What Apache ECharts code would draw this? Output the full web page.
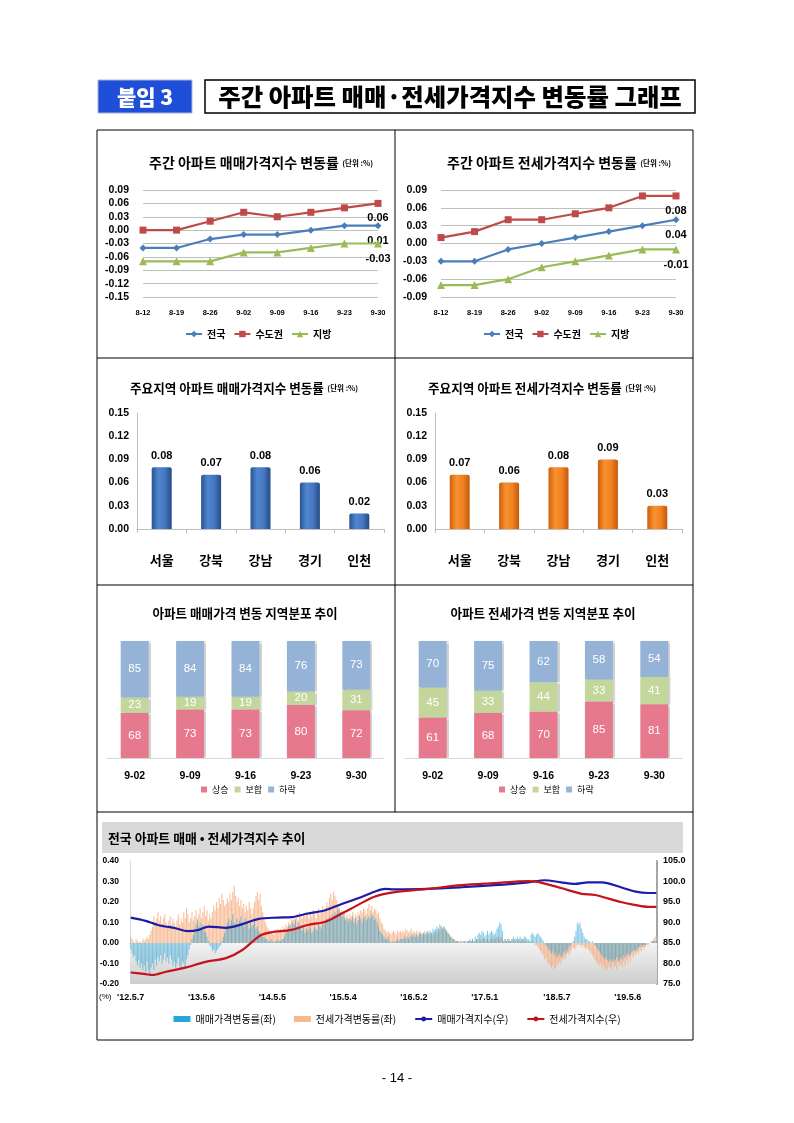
<!DOCTYPE html>
<html><head><meta charset="utf-8">
<script src="https://cdn.jsdelivr.net/npm/echarts@6/dist/echarts.min.js"></script>
<style>html,body{margin:0;padding:0;background:#fff}#c{width:794px;height:1123px}</style>
</head><body><div id="c"></div>
<script>
// ---------- data ----------
const weeks1 = ['8-12','8-19','8-26','9-02','9-09','9-16','9-23','9-30'];
const saleNation   = [-0.04,-0.04,-0.02,-0.01,-0.01,0.00,0.01,0.01];
const saleCapital  = [0.00,0.00,0.02,0.04,0.03,0.04,0.05,0.06];
const saleProvince = [-0.07,-0.07,-0.07,-0.05,-0.05,-0.04,-0.03,-0.03];
const jeonseNation   = [-0.03,-0.03,-0.01,0.00,0.01,0.02,0.03,0.04];
const jeonseCapital  = [0.01,0.02,0.04,0.04,0.05,0.06,0.08,0.08];
const jeonseProvince = [-0.07,-0.07,-0.06,-0.04,-0.03,-0.02,-0.01,-0.01];
const lineNames = ['전국','수도권','지방'];

const regions = ['서울','강북','강남','경기','인천'];
const regionSale   = [0.08,0.07,0.08,0.06,0.02];
const regionJeonse = [0.07,0.06,0.08,0.09,0.03];

const distWeeks = ['9-02','9-09','9-16','9-23','9-30'];
const distNames = ['상승','보합','하락'];
const saleUp   = [68,73,73,80,72];
const saleFlat = [23,19,19,20,31];
const saleDown = [85,84,84,76,73];
const jeonseUp   = [61,68,70,85,81];
const jeonseFlat = [45,33,44,33,41];
const jeonseDown = [70,75,62,58,54];

// weekly series, 2012-05-07 .. 2019-09-30 (387 weeks)
const saleWeekly = [
-0.03,-0.05,-0.07,-0.06,-0.09,-0.11,-0.08,-0.12,-0.10,-0.13,
-0.11,-0.14,-0.09,-0.13,-0.15,-0.12,-0.10,-0.13,-0.08,-0.11,
-0.07,-0.09,-0.06,-0.10,-0.08,-0.05,-0.09,-0.07,-0.10,-0.06,
-0.08,-0.11,-0.09,-0.12,-0.10,-0.07,-0.11,-0.13,-0.09,-0.10,
-0.12,-0.08,-0.06,-0.03,-0.01,0.02,0.04,0.06,0.09,0.11,
0.08,0.10,0.07,0.09,0.06,0.05,0.03,0.01,-0.01,-0.02,
-0.04,-0.03,-0.05,-0.04,-0.03,-0.02,-0.01,0.01,0.03,0.05,
0.08,0.10,0.12,0.09,0.11,0.14,0.10,0.08,0.12,0.09,
0.11,0.13,0.10,0.08,0.12,0.09,0.11,0.07,0.10,0.08,
0.09,0.12,0.07,0.08,0.06,0.05,0.04,0.03,0.03,0.02,
0.02,0.01,0.01,0.02,0.01,0.00,0.01,0.01,0.02,0.01,
0.01,0.02,0.02,0.03,0.05,0.06,0.08,0.09,0.07,0.10,
0.09,0.11,0.08,0.10,0.07,0.09,0.06,0.08,0.05,0.07,
0.06,0.08,0.07,0.05,0.06,0.08,0.07,0.06,0.09,0.08,
0.07,0.10,0.09,0.11,0.12,0.10,0.13,0.12,0.14,0.13,
0.15,0.14,0.16,0.17,0.15,0.13,0.14,0.12,0.11,0.12,
0.10,0.12,0.11,0.13,0.10,0.12,0.09,0.11,0.13,0.12,
0.10,0.12,0.13,0.11,0.12,0.13,0.12,0.14,0.13,0.11,
0.12,0.10,0.08,0.06,0.05,0.04,0.03,0.02,0.02,0.03,
0.01,0.00,0.01,0.00,0.01,0.01,0.02,0.01,0.02,0.02,
0.02,0.03,0.02,0.03,0.02,0.03,0.04,0.03,0.04,0.03,
0.04,0.03,0.04,0.05,0.04,0.05,0.04,0.05,0.06,0.05,
0.06,0.05,0.07,0.06,0.07,0.08,0.07,0.09,0.08,0.07,
0.08,0.07,0.06,0.05,0.04,0.03,0.02,0.02,0.01,0.01,
0.01,0.00,0.01,0.00,0.01,0.01,0.00,0.01,0.01,0.02,
0.01,0.02,0.01,0.03,0.02,0.04,0.05,0.04,0.06,0.05,
0.03,0.04,0.06,0.04,0.05,0.06,0.05,0.04,0.05,0.07,
0.08,0.10,0.09,0.06,0.01,0.02,0.01,0.02,0.01,0.01,
0.02,0.03,0.02,0.02,0.03,0.02,0.03,0.02,0.02,0.03,
0.03,0.02,0.02,0.01,0.04,0.05,0.04,0.03,0.04,0.05,
0.04,0.03,0.02,0.01,0.00,-0.01,-0.02,-0.03,-0.04,-0.05,
-0.04,-0.06,-0.05,-0.07,-0.06,-0.05,-0.07,-0.06,-0.04,-0.05,
-0.03,-0.04,-0.02,-0.01,0.00,0.01,0.03,0.06,0.10,0.09,
0.10,0.07,0.05,0.03,0.02,0.02,0.01,0.01,0.00,0.01,
0.00,-0.01,-0.02,-0.03,-0.04,-0.05,-0.06,-0.07,-0.08,-0.07,
-0.08,-0.09,-0.08,-0.09,-0.08,-0.09,-0.08,-0.07,-0.09,-0.08,
-0.07,-0.08,-0.06,-0.07,-0.06,-0.05,-0.06,-0.05,-0.04,-0.04,
-0.03,-0.04,-0.03,-0.02,-0.02,-0.01,-0.02,-0.01,-0.01,0.00,
0.00,0.00,0.00,0.01,0.01,0.01,0.01];
const jeonseWeekly = [
0.03,0.02,0.01,0.00,0.02,0.01,-0.01,0.01,0.00,0.02,
0.01,0.02,0.03,0.02,0.04,0.06,0.08,0.13,0.10,0.12,
0.15,0.11,0.13,0.09,0.12,0.14,0.10,0.08,0.11,0.13,
0.09,0.12,0.10,0.08,0.11,0.14,0.09,0.12,0.10,0.15,
0.12,0.17,0.14,0.10,0.12,0.15,0.11,0.13,0.16,0.12,
0.14,0.17,0.12,0.15,0.18,0.13,0.16,0.11,0.14,0.12,
0.15,0.18,0.16,0.20,0.17,0.22,0.19,0.24,0.21,0.18,
0.19,0.22,0.20,0.24,0.21,0.25,0.28,0.23,0.20,0.22,
0.18,0.21,0.17,0.19,0.15,0.18,0.16,0.20,0.17,0.14,
0.17,0.20,0.23,0.25,0.21,0.24,0.18,0.15,0.12,0.10,
0.08,0.07,0.06,0.05,0.05,0.04,0.06,0.05,0.07,0.06,
0.07,0.06,0.08,0.07,0.09,0.08,0.10,0.09,0.12,0.11,
0.13,0.12,0.14,0.11,0.15,0.13,0.12,0.14,0.13,0.15,
0.14,0.12,0.15,0.13,0.16,0.14,0.12,0.15,0.17,0.14,
0.16,0.18,0.15,0.17,0.20,0.18,0.22,0.24,0.21,0.25,
0.23,0.21,0.19,0.17,0.15,0.16,0.14,0.15,0.13,0.14,
0.12,0.14,0.13,0.15,0.12,0.14,0.13,0.15,0.14,0.16,
0.15,0.17,0.16,0.14,0.17,0.19,0.16,0.18,0.15,0.17,
0.16,0.14,0.15,0.12,0.10,0.09,0.07,0.06,0.05,0.06,
0.05,0.04,0.05,0.06,0.05,0.04,0.06,0.05,0.06,0.05,
0.06,0.05,0.07,0.06,0.05,0.06,0.07,0.05,0.06,0.05,
0.06,0.05,0.06,0.05,0.04,0.05,0.06,0.05,0.04,0.05,
0.04,0.05,0.04,0.05,0.06,0.05,0.07,0.06,0.08,0.07,
0.08,0.07,0.06,0.05,0.04,0.03,0.03,0.02,0.02,0.01,
0.01,0.01,0.00,0.01,0.00,0.01,0.01,0.00,0.01,0.01,
0.01,0.02,0.01,0.01,0.02,0.01,0.02,0.01,0.02,0.02,
0.02,0.01,0.02,0.01,0.02,0.02,0.03,0.02,0.02,0.03,
0.03,0.02,0.03,0.02,0.01,0.02,0.01,0.02,0.02,0.01,
0.02,0.01,0.02,0.01,0.01,0.02,0.01,0.01,0.02,0.01,
0.01,0.01,0.00,0.01,0.00,0.01,0.00,-0.01,-0.01,-0.02,
-0.03,-0.04,-0.05,-0.06,-0.08,-0.07,-0.09,-0.10,-0.11,-0.12,
-0.11,-0.13,-0.12,-0.10,-0.11,-0.09,-0.10,-0.08,-0.07,-0.08,
-0.06,-0.05,-0.06,-0.04,-0.03,-0.02,-0.03,-0.02,-0.01,-0.01,
-0.01,-0.02,-0.01,-0.02,-0.03,-0.02,-0.03,-0.04,-0.05,-0.06,
-0.07,-0.08,-0.09,-0.10,-0.11,-0.10,-0.12,-0.11,-0.13,-0.12,
-0.13,-0.11,-0.12,-0.13,-0.10,-0.12,-0.11,-0.13,-0.09,-0.11,
-0.10,-0.12,-0.09,-0.11,-0.08,-0.10,-0.07,-0.09,-0.06,-0.07,
-0.05,-0.06,-0.04,-0.05,-0.03,-0.04,-0.02,-0.03,-0.02,-0.01,
-0.01,0.00,0.01,0.01,0.02,0.03,0.03];
// index lines: [week number, index value]
const saleIndexPts = [[0,91.2],[11,90.4],[20,89.4],[33,88.6],[42,87.9],[50,88.2],[57,89.0],[70,88.7],[82,89.6],[94,90.9],[108,91.2],[118,91.3],[130,92.2],[143,93.0],[155,94.5],[167,95.9],[179,97.5],[187,98.2],[193,98.1],[218,98.2],[243,98.6],[267,99.1],[292,99.8],[304,100.3],[316,99.8],[326,99.4],[336,99.8],[346,99.8],[360,98.6],[370,97.6],[380,97.2],[386,97.2]];
const jeonseIndexPts = [[0,77.8],[11,77.4],[16,77.2],[26,78.0],[40,79.0],[55,80.4],[70,81.3],[82,83.3],[95,86.8],[103,87.6],[118,88.2],[130,89.4],[143,90.2],[155,92.2],[167,94.3],[179,96.3],[194,97.4],[218,98.2],[243,99.1],[267,99.6],[292,100.1],[299,99.9],[316,98.4],[331,97.0],[341,96.7],[360,95.0],[370,94.3],[380,93.8],[386,93.8]];
const longTickIdx = [0,52,104,156,208,260,313,365];
const longTickLabels = ["'12.5.7","'13.5.6","'14.5.5","'15.5.4","'16.5.2","'17.5.1","'18.5.7","'19.5.6"];
const longNames = ['매매가격변동률(좌)','전세가격변동률(좌)','매매가격지수(우)','전세가격지수(우)'];

// ---------- helpers ----------
const F = "'Liberation Sans','Noto Sans CJK KR',sans-serif";
const FK = "'Noto Sans CJK KR','Liberation Sans',sans-serif";
const FN = "'Liberation Sans Narrow','Arial Narrow','Liberation Sans',sans-serif";
const weekCats = saleWeekly.map((_, i) => String(i));
const lineColors = ['#4A7EBB','#BE4B48','#9BBB59'];
const lineSymbols = ['diamond','rect','triangle'];

function withLastLabel(arr) {
  return arr.map((v, i) => i === arr.length - 1 ? {
    value: v,
    label: {show: true, position: 'bottom', distance: 6, formatter: v.toFixed(2),
      fontSize: 11, fontWeight: 'bold', color: '#000', fontFamily: F}
  } : v);
}
function lineSeries(idx, arrs) {
  return arrs.map((a, k) => ({
    type: 'line', name: lineNames[k], xAxisIndex: idx, yAxisIndex: idx,
    data: withLastLabel(a), symbol: lineSymbols[k], symbolSize: k === 2 ? 8 : 7,
    lineStyle: {color: lineColors[k], width: 2.2}, itemStyle: {color: lineColors[k]}, z: 3 + k
  }));
}
function lineAxes(idx, min, max) {
  return {
    x: {gridIndex: idx, type: 'category', data: weeks1, boundaryGap: false,
      axisLine: {show: true, lineStyle: {color: '#BFBFBF'}}, axisTick: {show: false},
      axisLabel: {color: '#000', fontSize: 7.5, fontWeight: 'bold', fontFamily: F, margin: 12}},
    y: {gridIndex: idx, type: 'value', min: min, max: max, interval: 0.03,
      axisLine: {show: false}, axisTick: {show: false},
      splitLine: {show: true, lineStyle: {color: '#BFBFBF', width: 1}},
      axisLabel: {color: '#000', fontSize: 10.5, fontWeight: 'bold', fontFamily: F, margin: 14,
        formatter: v => (Math.abs(v) < 1e-9 ? 0 : v).toFixed(2)}}
  };
}
function barAxes(idx) {
  return {
    x: {gridIndex: idx, type: 'category', data: regions,
      axisLine: {show: true, lineStyle: {color: '#BFBFBF'}},
      axisTick: {show: true, length: 4, lineStyle: {color: '#BFBFBF'}},
      axisLabel: {color: '#000', fontSize: 13, fontWeight: 'bold', fontFamily: FK, margin: 25}},
    y: {gridIndex: idx, type: 'value', min: 0, max: 0.15, interval: 0.03,
      axisLine: {show: true, lineStyle: {color: '#BFBFBF'}}, axisTick: {show: false},
      splitLine: {show: false},
      axisLabel: {color: '#000', fontSize: 10.5, fontWeight: 'bold', fontFamily: F, margin: 8,
        formatter: v => v.toFixed(2)}}
  };
}
function gradH(stops) {
  return {type: 'linear', x: 0, y: 0, x2: 1, y2: 0,
    colorStops: stops.map((c, i) => ({offset: i / (stops.length - 1), color: c}))};
}
function barSeries(idx, arr, stops) {
  return {type: 'bar', xAxisIndex: idx, yAxisIndex: idx, data: arr, barWidth: 20,
    itemStyle: {color: gradH(stops), borderRadius: [2, 2, 0, 0]},
    label: {show: true, position: 'top', distance: 6, fontSize: 11, fontWeight: 'bold', color: '#000',
      fontFamily: F, formatter: p => p.value.toFixed(2)}};
}
const distColors = ['#E7798F','#C3D69B','#95B3D7'];
function distAxes(idx) {
  return {
    x: {gridIndex: idx, type: 'category', data: distWeeks,
      axisLine: {show: true, lineStyle: {color: '#D9D9D9'}}, axisTick: {show: false},
      axisLabel: {color: '#000', fontSize: 10.5, fontWeight: 'bold', fontFamily: F, margin: 13}},
    y: {gridIndex: idx, type: 'value', min: 0, max: 176, show: false, splitLine: {show: false}}
  };
}
function distSeries(idx, arrs) {
  return arrs.map((a, k) => ({
    type: 'bar', name: distNames[k], xAxisIndex: idx, yAxisIndex: idx, stack: 'd' + idx,
    data: a, barWidth: 28,
    itemStyle: {color: distColors[k], shadowColor: 'rgba(0,0,0,0.18)', shadowOffsetX: 2, shadowBlur: 1},
    label: {show: true, position: 'inside', color: '#fff', fontSize: 11.5, fontFamily: FN}
  }));
}

const A0 = lineAxes(0, -0.15, 0.09), A1 = lineAxes(1, -0.09, 0.09);
const A2 = barAxes(2), A3 = barAxes(3), A4 = distAxes(4), A5 = distAxes(5);

function titleEl(x, y, main, unit, size, usize, align) {
  const rich = {a: {fontSize: size, fontWeight: 'bold', fontFamily: FK, fill: '#000'},
                b: {fontSize: usize, fontWeight: 'bold', fontFamily: FK, fill: '#000'}};
  return {type: 'text', x: x, y: y, silent: true,
    style: {text: unit ? '{a|' + main + '} {b|' + unit + '}' : '{a|' + main + '}', rich: rich,
      align: align || 'left', verticalAlign: 'middle'}};
}

const option = {
  backgroundColor: '#fff',
  animation: false,
  grid: [
    {left: 143, top: 190, width: 235, height: 107},
    {left: 441, top: 190, width: 235, height: 107},
    {left: 137, top: 413, width: 247, height: 116},
    {left: 435, top: 413, width: 247, height: 116},
    {left: 107, top: 641, width: 277, height: 117},
    {left: 405, top: 641, width: 277, height: 117},
    {left: 130, top: 861, width: 527, height: 123}
  ].map(g => Object.assign(g, {containLabel: false, outerBoundsMode: 'none', show: false})),
  xAxis: [A0.x, A1.x, A2.x, A3.x, A4.x, A5.x,
    {gridIndex: 6, type: 'category', data: weekCats, position: 'bottom',
      axisLine: {show: false, onZero: false}, axisTick: {show: false}, splitLine: {show: false},
      axisLabel: {interval: i => longTickIdx.includes(i),
        formatter: v => { const k = longTickIdx.indexOf(Number(v)); return k >= 0 ? longTickLabels[k] : ''; },
        color: '#000', fontSize: 9, fontWeight: 'bold', fontFamily: F, margin: 9}},
    {gridIndex: 6, type: 'category', data: weekCats, position: 'bottom',
      axisLine: {show: true, onZero: true, lineStyle: {color: '#A0A0A0'}},
      axisTick: {show: true, interval: i => i % 2 === 0, length: 3, lineStyle: {color: '#A8A8A8'}},
      axisLabel: {show: false}, splitLine: {show: false}}
  ],
  yAxis: [A0.y, A1.y, A2.y, A3.y, A4.y, A5.y,
    {gridIndex: 6, type: 'value', min: -0.2, max: 0.4, interval: 0.1, position: 'left',
      axisLine: {show: true, lineStyle: {color: '#D9D9D9'}}, axisTick: {show: false}, splitLine: {show: false},
      axisLabel: {color: '#000', fontSize: 8.5, fontWeight: 'bold', fontFamily: F, margin: 11,
        formatter: v => (Math.abs(v) < 1e-9 ? 0 : v).toFixed(2)}},
    {gridIndex: 6, type: 'value', min: 75, max: 105, interval: 5, position: 'right',
      axisLine: {show: true, lineStyle: {color: '#A6A6A6', width: 2}}, axisTick: {show: false}, splitLine: {show: false},
      axisLabel: {color: '#000', fontSize: 9, fontWeight: 'bold', fontFamily: F, margin: 6,
        formatter: v => v.toFixed(1)}}
  ],
  legend: [
    {left: 180, top: 324, data: lineNames, itemWidth: 16, itemHeight: 8, itemGap: 8,
      textStyle: {fontSize: 10, fontWeight: 'bold', color: '#000', fontFamily: FK}},
    {left: 478, top: 324, data: lineNames, itemWidth: 16, itemHeight: 8, itemGap: 8,
      textStyle: {fontSize: 10, fontWeight: 'bold', color: '#000', fontFamily: FK}},
    {left: 196, top: 780, data: distNames, icon: 'rect', itemWidth: 6, itemHeight: 6, itemGap: 6,
      textStyle: {fontSize: 9, color: '#000', fontFamily: FK}},
    {left: 494, top: 780, data: distNames, icon: 'rect', itemWidth: 6, itemHeight: 6, itemGap: 6,
      textStyle: {fontSize: 9, color: '#000', fontFamily: FK}},
    {left: 'center', top: 1009, itemWidth: 17, itemHeight: 6, itemGap: 18,
      data: [
        {name: longNames[0], icon: 'rect', itemStyle: {color: '#2AA5D9', opacity: 1}},
        {name: longNames[1], icon: 'rect', itemStyle: {color: '#F7B88E', opacity: 1}},
        {name: longNames[2]}, {name: longNames[3]}],
      textStyle: {fontSize: 10, color: '#000', fontFamily: FK}}
  ],
  series: [
    ...lineSeries(0, [saleNation, saleCapital, saleProvince]),
    ...lineSeries(1, [jeonseNation, jeonseCapital, jeonseProvince]),
    barSeries(2, regionSale, ['#2A548F','#4F86D0','#4677C0','#244A84']),
    barSeries(3, regionJeonse, ['#CC5F0C','#F7922F','#F08221','#C4590A']),
    ...distSeries(4, [saleUp, saleFlat, saleDown]),
    ...distSeries(5, [jeonseUp, jeonseFlat, jeonseDown]),
    {type: 'bar', name: longNames[1], xAxisIndex: 6, yAxisIndex: 6, data: jeonseWeekly,
      barWidth: 1.1, barGap: '-100%', itemStyle: {color: 'rgba(245,170,122,0.75)'},
      markArea: {silent: true, itemStyle: {color: {type: 'linear', x: 0, y: 0, x2: 0, y2: 1,
        colorStops: [{offset: 0, color: '#F3F3F3'}, {offset: 1, color: '#CDCDCD'}]}},
        data: [[{yAxis: 0}, {yAxis: -0.2}]]}},
    {type: 'bar', name: longNames[0], xAxisIndex: 6, yAxisIndex: 6, data: saleWeekly,
      barWidth: 1.1, barGap: '-100%', itemStyle: {color: 'rgba(40,160,212,0.55)'}},
    {type: 'line', name: longNames[2], xAxisIndex: 6, yAxisIndex: 7, data: saleIndexPts,
      symbol: 'none', smooth: 0.3, lineStyle: {color: '#1C1CA8', width: 2.2}, itemStyle: {color: '#1C1CA8'}, z: 6},
    {type: 'line', name: longNames[3], xAxisIndex: 6, yAxisIndex: 7, data: jeonseIndexPts,
      symbol: 'none', smooth: 0.3, lineStyle: {color: '#C4131B', width: 2.2}, itemStyle: {color: '#C4131B'}, z: 6}
  ],
  graphic: [
    // header
    {type: 'rect', shape: {x: 98, y: 80, width: 94, height: 33}, style: {fill: '#1F4FD8', stroke: '#A8B4D8', lineWidth: 1}, silent: true},
    {type: 'text', x: 145, y: 97, silent: true, style: {text: '붙임 3', fill: '#fff', fontSize: 21, fontWeight: 900,
      fontFamily: FK, align: 'center', verticalAlign: 'middle', shadowColor: '#000', shadowOffsetX: 1, shadowOffsetY: 1, shadowBlur: 0}},
    {type: 'rect', shape: {x: 205, y: 80, width: 490, height: 33}, style: {fill: '#fff', stroke: '#000', lineWidth: 1.5}, silent: true},
    {type: 'text', x: 450, y: 97, silent: true, style: {text: '주간 아파트 매매·전세가격지수 변동률 그래프', fill: '#000',
      fontSize: 24.4, fontWeight: 900, fontFamily: FK, align: 'center', verticalAlign: 'middle'}},
    // frame
    {type: 'rect', shape: {x: 97, y: 130, width: 596, height: 910}, style: {fill: 'none', stroke: '#000', lineWidth: 1}, silent: true},
    {type: 'line', shape: {x1: 97, y1: 358, x2: 693, y2: 358}, style: {stroke: '#000', lineWidth: 1}, silent: true},
    {type: 'line', shape: {x1: 97, y1: 585, x2: 693, y2: 585}, style: {stroke: '#000', lineWidth: 1}, silent: true},
    {type: 'line', shape: {x1: 97, y1: 812, x2: 693, y2: 812}, style: {stroke: '#000', lineWidth: 1}, silent: true},
    {type: 'line', shape: {x1: 395, y1: 130, x2: 395, y2: 812}, style: {stroke: '#000', lineWidth: 1}, silent: true},
    // titles
    titleEl(149, 163, '주간 아파트 매매가격지수 변동률', '(단위 :%)', 14, 7.5),
    titleEl(447, 163, '주간 아파트 전세가격지수 변동률', '(단위 :%)', 14, 7.5),
    titleEl(130, 388, '주요지역 아파트 매매가격지수 변동률', '(단위 :%)', 12.6, 7.5),
    titleEl(428, 388, '주요지역 아파트 전세가격지수 변동률', '(단위 :%)', 12.6, 7.5),
    titleEl(245, 613, '아파트 매매가격 변동 지역분포 추이', '', 12.6, 7, 'center'),
    titleEl(543, 613, '아파트 전세가격 변동 지역분포 추이', '', 12.6, 7, 'center'),
    {type: 'rect', shape: {x: 102, y: 822, width: 581, height: 31}, style: {fill: '#D9D9D9'}, silent: true},
    titleEl(108, 838, '전국 아파트 매매 • 전세가격지수 추이', '', 12.9, 7),
    {type: 'text', x: 99, y: 997, silent: true, style: {text: '(%)', fill: '#000', fontSize: 8, fontFamily: F, verticalAlign: 'middle'}},
    {type: 'text', x: 397, y: 1078, silent: true, style: {text: '- 14 -', fill: '#000', fontSize: 13, fontFamily: F, align: 'center', verticalAlign: 'middle'}}
  ]
};
const chart = echarts.init(document.getElementById('c'));
chart.setOption(option);
</script>
</body></html>
